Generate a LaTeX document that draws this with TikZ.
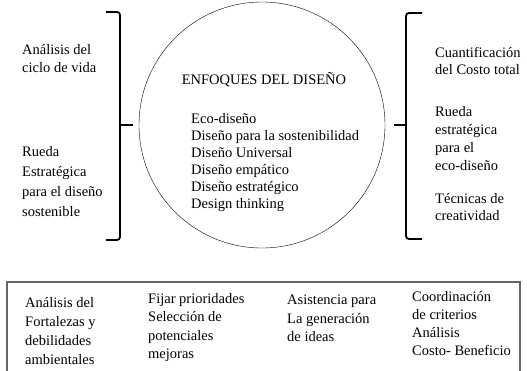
\documentclass[tikz,border=0pt]{standalone}
\usepackage{fontspec}
\setmainfont{Liberation Serif}
\begin{document}
\begin{tikzpicture}[x=1pt, y=-1pt,
  txt/.style={anchor=west, inner sep=0pt, align=left, font=\fontsize{14.5}{#1}\selectfont},
  txt/.default=18,
  brace/.style={draw, line width=1.8pt, rounded corners=3pt},
  ring/.style={draw, circle, thin, minimum size=246pt, inner sep=0pt}
]
\useasboundingbox (0,0) rectangle (527,370);
% central circle
\node[ring] (enfoques) at (262,125) {};
\node[txt, anchor=center] (titulo) at (264,80) {ENFOQUES DEL DISEÑO};
\node[txt=17] (lista) at (191,162.5) {Eco-diseño\\Diseño para la sostenibilidad\\Diseño Universal\\Diseño empático\\Diseño estratégico\\Design thinking};
% left bracket
\draw[brace] (106,12) -- (120,12) -- (120,240) -- (106,240);
\draw[line width=1.8pt] (120,125) -- (133,125);
\node[txt] (ciclo) at (22,59) {Análisis del\\ciclo de vida};
\node[txt=20] (ruedaS) at (22,182) {Rueda\\Estratégica\\para el diseño\\sostenible};
% right bracket
\draw[brace] (422,13) -- (406,13) -- (406,239) -- (422,239);
\draw[line width=1.8pt] (406,125) -- (394,125);
\node[txt=17] (costo) at (435,60.5) {Cuantificación\\del Costo total};
\node[txt=17.7] (ruedaE) at (435,138.5) {Rueda\\estratégica\\para el\\eco-diseño};
\node[txt=17] (tecnicas) at (435,207.5) {Técnicas de\\creatividad};
% bottom box
\draw[draw=black!60, line width=1.5pt] (7,282) rectangle (520,376);
\node[txt=19] (fortalezas) at (25,331.5) {Análisis del\\Fortalezas y\\debilidades\\ambientales};
\node[txt=18.3] (prioridades) at (148,327.5) {Fijar prioridades\\Selección de\\potenciales\\mejoras};
\node[txt=18.5] (ideas) at (287,318.5) {Asistencia para\\La generación\\de ideas};
\node[txt=17.7] (criterios) at (412,323.5) {Coordinación\\de criterios\\Análisis\\Costo- Beneficio};
\end{tikzpicture}
\end{document}
